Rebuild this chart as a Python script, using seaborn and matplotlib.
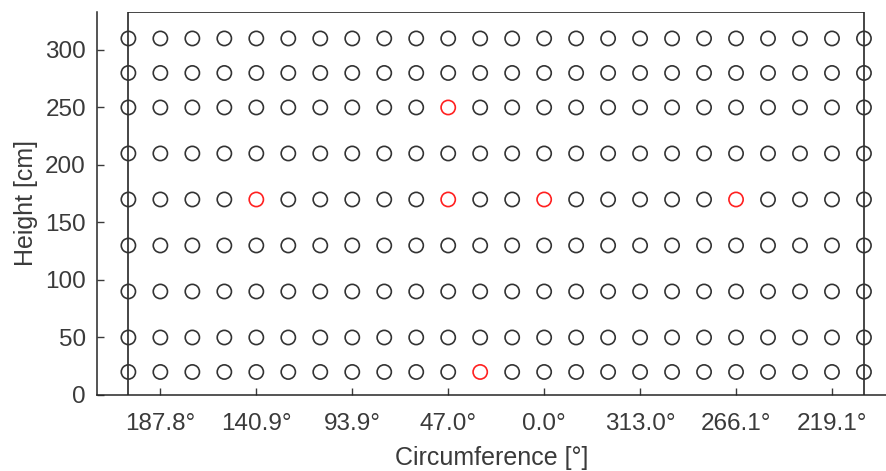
import matplotlib
matplotlib.use("Agg")
import matplotlib.pyplot as plt
import seaborn as sns
import pandas as pd

# ---- data ----
n_columns = 24
column_index = list(range(n_columns))
heights_cm = [20, 50, 90, 130, 170, 210, 250, 280, 310]
tick_columns = [1, 4, 7, 10, 13, 16, 19, 22]
tick_labels = ["187.8°", "140.9°", "93.9°", "47.0°", "0.0°", "313.0°", "266.1°", "219.1°"]
highlight_cols = [4, 10, 10, 11, 13, 19]
highlight_heights = [170, 250, 170, 20, 170, 170]
cylinder_height = 333
y_ticks = [0, 50, 100, 150, 200, 250, 300]

rows = []
hl = set(zip(highlight_cols, highlight_heights))
for c in column_index:
    for h in heights_cm:
        rows.append({"col": c, "h": h, "flag": "hit" if (c, h) in hl else "normal"})
df = pd.DataFrame(rows)

sns.set_theme(style="white")
plt.rcParams["font.family"] = ["Liberation Sans", "DejaVu Sans"]
text_col = "#3a3a3a"

fig = plt.figure(figsize=(8.87, 4.71), dpi=100)
ax = fig.add_axes([0.1094, 0.1614, 0.8906, 0.8131])

# cylinder outline
ax.plot([column_index[0], column_index[0], column_index[-1], column_index[-1]],
        [0, cylinder_height, cylinder_height, 0], color="#262626", lw=1.2, zorder=1)

sns.scatterplot(data=df, x="col", y="h", hue="flag",
                palette={"normal": "#333333", "hit": "#ff2020"},
                hue_order=["normal", "hit"], s=105, marker="o",
                linewidth=1.2, legend=False, ax=ax, zorder=3)
for coll in ax.collections:
    fc = coll.get_facecolors()
    coll.set_edgecolors(fc)
    coll.set_facecolors("none")

ax.set_xlim(-0.98, 23.72)
ax.set_ylim(0, cylinder_height)
ax.set_xticks(tick_columns)
ax.set_xticklabels(tick_labels)
ax.set_yticks(y_ticks)
ax.tick_params(direction="in", length=5, width=1, colors=text_col, labelsize=17.5,
               bottom=True, left=True)
ax.tick_params(axis="x", pad=13)
ax.tick_params(axis="y", pad=8)
for s in ["top", "right"]:
    ax.spines[s].set_visible(False)
for s in ["left", "bottom"]:
    ax.spines[s].set_color("#262626")
    ax.spines[s].set_linewidth(1.1)
ax.set_xlabel("Circumference [°]", fontsize=18, color=text_col, labelpad=8)
ax.set_ylabel("Height [cm]", fontsize=18, color=text_col, labelpad=5)

fig.savefig("out.png", dpi=100)
